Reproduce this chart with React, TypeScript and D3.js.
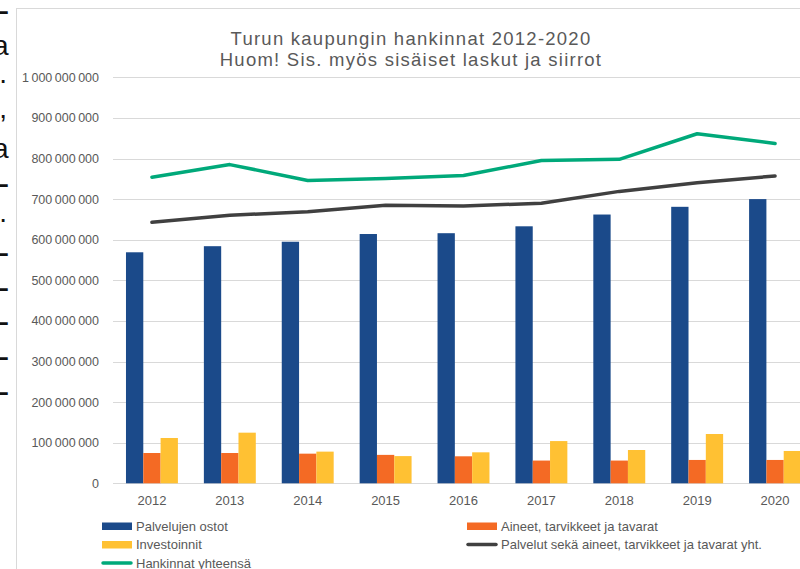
import React from 'react';
import * as d3 from 'd3';

const years = ['2012', '2013', '2014', '2015', '2016', '2017', '2018', '2019', '2020'];
const palvelujenOstot = [569, 584, 595, 614, 616, 633, 662, 681, 700].map(v => v * 1e6);
const aineetTarvikkeet = [74.6, 74.6, 73, 70, 66.5, 56, 56, 57.5, 57.5].map(v => v * 1e6);
const investoinnit = [111.6, 124.7, 78, 67, 76.3, 104, 82, 121.4, 79.6].map(v => v * 1e6);
const palvelutAineetYht = [643, 660, 669, 685, 683, 690, 719, 740, 757].map(v => v * 1e6);
const hankinnatYhteensa = [754, 785, 746, 751, 758, 795, 798, 861, 837].map(v => v * 1e6);
const yTicks = [0, 1e8, 2e8, 3e8, 4e8, 5e8, 6e8, 7e8, 8e8, 9e8, 1e9];
const titleLines = ['Turun kaupungin hankinnat 2012-2020', 'Huom! Sis. myös sisäiset laskut ja siirrot'];
const sideFragments = ['–', 'a', '.', ',', 'a', '–', '.', '–', '–', '–', '–', '–'];

const barSeries = [
  { name: 'Palvelujen ostot', values: palvelujenOstot, color: '#1B4A8A' },
  { name: 'Aineet, tarvikkeet ja tavarat', values: aineetTarvikkeet, color: '#F46A24' },
  { name: 'Investoinnit', values: investoinnit, color: '#FFC133' },
];
const lineSeries = [
  { name: 'Palvelut sekä aineet, tarvikkeet ja tavarat yht.', values: palvelutAineetYht, color: '#404040' },
  { name: 'Hankinnat yhteensä', values: hankinnatYhteensa, color: '#00A97A' },
];

const fmt = (v: number) => d3.format(',')(v).replace(/,/g, '\u2009');

export default function App() {
  const W = 800, H = 569;
  const left = 113, right = 814, top = 77.3, bottom = 483.3;
  const x = d3.scaleBand<string>().domain(years).range([left, right]).paddingInner(1 / 3).paddingOuter(1 / 6);
  const xFull = d3.scaleBand<string>().domain(years).range([left, right]);
  const sub = d3.scaleBand<number>().domain([0, 1, 2]).range([0, x.bandwidth()]);
  const y = d3.scaleLinear().domain([0, 1e9]).range([bottom, top]);
  const cx = (i: number) => (xFull(years[i]) as number) + xFull.bandwidth() / 2;
  const line = d3.line<number>().x((_, i) => cx(i)).y(v => y(v));
  const font = "'Liberation Sans', Arial, sans-serif";

  const legendItems = [
    { ...barSeries[0], kind: 'bar', lx: 102, ly: 526 },
    { ...barSeries[1], kind: 'bar', lx: 467, ly: 526 },
    { ...barSeries[2], kind: 'bar', lx: 102, ly: 544.5 },
    { ...lineSeries[0], kind: 'line', lx: 467, ly: 544.5 },
    { ...lineSeries[1], kind: 'line', lx: 102, ly: 563 },
  ];

  return (
    <svg width={W} height={H} style={{ position: 'absolute', left: 0, top: 0, background: '#fff' }} fontFamily={font}>
      <rect x={0} y={0} width={W} height={H} fill="#fff" />
      {sideFragments.map((c, i) => {
        const punct = c === '.' || c === ',';
        return (
          <text key={i} x={punct ? 7 : 8.5} y={20 + i * 34.6 - (punct ? 6 : 0)} fontSize={28}
            fontWeight={c === '–' ? 'bold' : 'normal'} textAnchor="end" fill="#111">{c}</text>
        );
      })}
      <rect x={16.5} y={8.5} width={900} height={700} fill="#fff" stroke="#d9d9d9" strokeWidth={1} />
      {titleLines.map((t, i) => (
        <text key={i} x={411} y={45 + i * 20.5} fontSize={18.5} letterSpacing={1.25} textAnchor="middle" fill="#595959">{t}</text>
      ))}
      {yTicks.map(t => (
        <g key={t}>
          <line x1={left} x2={W} y1={Math.round(y(t)) + 0.5} y2={Math.round(y(t)) + 0.5} stroke="#d9d9d9" strokeWidth={1} />
          <text x={99} y={y(t) + 4.5} fontSize={12.5} textAnchor="end" fill="#595959">{t === 0 ? '0' : fmt(t)}</text>
        </g>
      ))}
      {barSeries.map((s, si) => (
        <g key={s.name}>
          {s.values.map((v, i) => (
            <rect key={i} x={(x(years[i]) as number) + (sub(si) as number)} y={y(v)} width={sub.bandwidth()} height={bottom - y(v)} fill={s.color} />
          ))}
        </g>
      ))}
      {lineSeries.map(s => (
        <path key={s.name} d={line(s.values) as string} fill="none" stroke={s.color} strokeWidth={3.5} strokeLinejoin="round" strokeLinecap="round" />
      ))}
      {years.map((yr, i) => (
        <text key={yr} x={cx(i)} y={504.5} fontSize={13} textAnchor="middle" fill="#595959">{yr}</text>
      ))}
      {legendItems.map(it => (
        <g key={it.name}>
          {it.kind === 'bar'
            ? <rect x={it.lx} y={it.ly - 3.5} width={30} height={7.5} fill={it.color} />
            : <line x1={it.lx + 1} x2={it.lx + 29} y1={it.ly} y2={it.ly} stroke={it.color} strokeWidth={3.5} strokeLinecap="round" />}
          <text x={it.lx + 34} y={it.ly + 4.5} fontSize={13} fill="#595959">{it.name}</text>
        </g>
      ))}
    </svg>
  );
}
